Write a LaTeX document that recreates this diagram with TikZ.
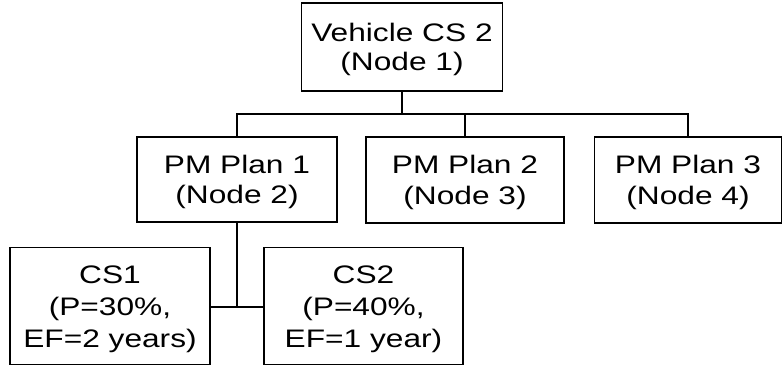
\documentclass[tikz,border=0pt]{standalone}
\usepackage{fontspec}
\usepackage{graphicx}
\setmainfont{Liberation Sans}
\newcommand{\wtxt}[2]{\raisebox{-2.25pt}[\height][\depth]{\scalebox{1.25}[1]{\fontsize{19}{#1}\selectfont\begin{tabular}{@{}c@{}}#2\end{tabular}}}}
\begin{document}
\begin{tikzpicture}[x=0.75pt,y=-0.75pt,
  box/.style={draw=black,line width=1.2pt,inner sep=0pt,minimum height=#1*0.75pt},
  conn/.style={line width=1.2pt},
  thick conn/.style={line width=2pt}]
\useasboundingbox (0,0) rectangle (782,366);
\node[box=88,minimum width=150.75pt] (n1) at (402,47) {\wtxt{22}{Vehicle CS 2\\(Node 1)}};
\node[box=85,minimum width=150pt] (n2) at (237,179.5) {\wtxt{23}{PM Plan 1\\(Node 2)}};
\node[box=86,minimum width=148.5pt] (n3) at (465,180) {\wtxt{23}{PM Plan 2\\(Node 3)}};
\node[box=86,minimum width=140.25pt] (n4) at (688,180) {\wtxt{23}{PM Plan 3\\(Node 4)}};
\node[box=117,minimum width=150pt] (c1) at (110,306) {\wtxt{24}{CS1\\(P=30\%,\\EF=2 years)}};
\node[box=117,minimum width=149.25pt] (c2) at (363.5,306) {\wtxt{24}{CS2\\(P=40\%,\\EF=1 year)}};
\coordinate (j1) at (400,114);
\coordinate (j2) at (237,307);
\draw[conn] (n1.south) -- (n1.south |- j1);
\draw[conn] (n2.north) -- (n2.north |- j1) -| (n4.north);
\draw[conn] (n3.north) -- (n3.north |- j1);
\draw[thick conn] (n2.south) -- (j2);
\draw[conn] (c1.east |- j2) -- (c2.west |- j2);
\end{tikzpicture}
\end{document}
